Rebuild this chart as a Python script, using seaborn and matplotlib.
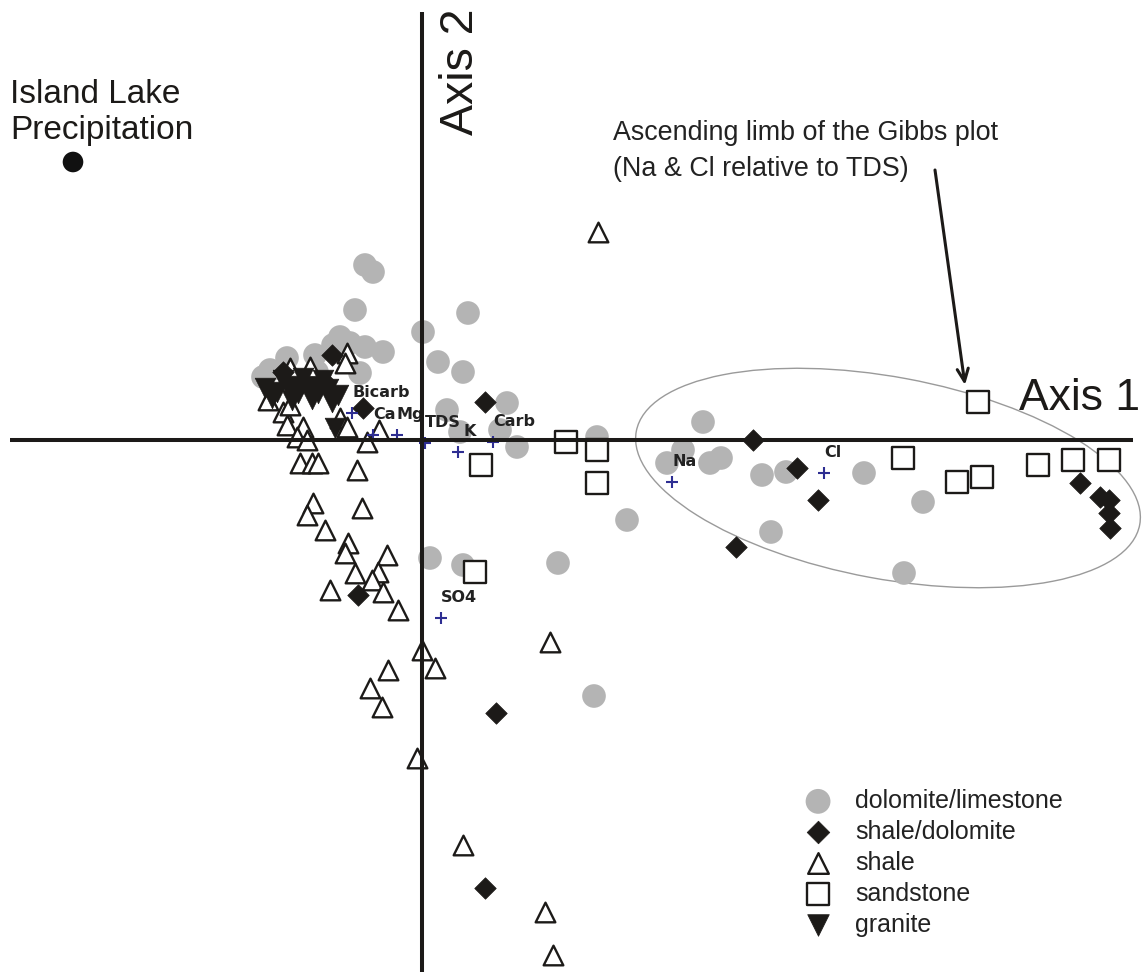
import matplotlib
matplotlib.use("Agg")
import matplotlib.pyplot as plt
import seaborn as sns
import pandas as pd
from matplotlib.patches import Ellipse

sns.set_style("white")
plt.rcParams['font.family'] = ['Liberation Sans', 'DejaVu Sans']

# ---------------- data (Axis 1 / Axis 2 ordination scores) -------------
dolo_x = [-0.57, -0.49, -0.67, 0.46, 0.01, -0.82, -0.57, -0.39, 0.16, 0.41, 0.85, 0.25, 0.38,
          0.78, 0.95, 1.75, 2.05, 0.08, 0.41, 1.36, 1.72, -1.52, -1.35, -1.07, -0.89, -0.72,
          -0.62, -1.05, -1.59, 2.81, 2.61, 2.45, 2.88, 2.99, 3.40, 3.64, 4.42, 5.01, 3.49, 4.82]
dolo_y = [1.75, 1.68, 1.30, 1.27, 1.08, 1.03, 0.93, 0.88, 0.78, 0.68, 0.37, 0.30, 0.08,
          0.10, -0.07, 0.03, -0.80, -1.18, -1.25, -1.23, -2.56, 0.70, 0.82, 0.85, 0.95, 0.97,
          0.67, 0.68, 0.63, 0.18, -0.10, -0.23, -0.23, -0.18, -0.35, -0.32, -0.33, -0.62, -0.92, -1.33]

shdo_x = [-0.90, -0.59, 0.63, -0.64, 0.74, 0.63, 3.31, 3.75, 3.96, 3.14, 6.58, 6.78, 6.87,
          6.87, 6.88, -1.39, -1.22, -0.97]
shdo_y = [0.85, 0.32, 0.38, -1.55, -2.73, -4.48, 0.00, -0.28, -0.60, -1.07, -0.43, -0.57, -0.60,
          -0.73, -0.88, 0.68, 0.55, 0.58]

shale_x = [1.76, -0.75, -0.77, -1.32, -1.12, -1.39, -1.35, -1.19, -0.82, -0.75, -0.43, -0.55,
           -1.25, -1.15, -1.22, -1.10, -1.04, -0.65, -1.09, -1.15, -0.60, -0.97, -0.74, -0.77,
           -0.35, -0.67, -0.44, -0.50, -0.92, -0.39, -0.24, 0.00, 0.13, -0.34, -0.52, -0.40,
           1.28, -0.05, 0.41, 1.23, 1.31, -1.54, -1.32]
shale_y = [2.08, 0.87, 0.77, 0.72, 0.73, 0.28, 0.15, 0.13, 0.22, 0.13, 0.10, -0.02,
           0.03, 0.00, -0.23, -0.23, -0.23, -0.30, -0.63, -0.75, -0.68, -0.90, -1.03, -1.13,
           -1.15, -1.33, -1.32, -1.40, -1.50, -1.52, -1.70, -2.10, -2.28, -2.30, -2.48, -2.67,
           -2.02, -3.18, -4.05, -4.72, -5.15, 0.40, 0.35]

sand_x = [5.56, 0.59, 1.44, 1.75, 1.75, 0.53, 4.81, 5.35, 5.60, 6.16, 6.51, 6.87]
sand_y = [0.38, -0.25, -0.02, -0.10, -0.43, -1.32, -0.18, -0.42, -0.37, -0.25, -0.20, -0.20]

gran_x = [-1.57, -1.45, -1.34, -1.24, -1.14, -1.04, -0.94, -0.84, -1.50, -1.30, -1.10, -0.90,
          -1.39, -1.19, -0.99, -0.87]
gran_y = [0.52, 0.48, 0.54, 0.47, 0.53, 0.47, 0.51, 0.45, 0.42, 0.40, 0.41, 0.38,
          0.60, 0.62, 0.60, 0.12]

precip_x = [-3.49]
precip_y = [2.78]

var_names = ["Bicarb", "Ca", "Mg", "TDS", "K", "Carb", "Na", "Cl", "SO4"]
var_x = [-0.70, -0.49, -0.25, 0.03, 0.36, 0.71, 2.50, 4.02, 0.19]
var_y = [0.27, 0.05, 0.05, -0.03, -0.12, -0.02, -0.42, -0.33, -1.78]

rock_labels = ["dolomite/limestone", "shale/dolomite", "shale", "sandstone", "granite"]

# ---------------- figure --------------------------------------------------------------------
fig = plt.figure(figsize=(11.42, 9.72), dpi=100)
ax = fig.add_axes([0, 0, 1, 1])
ax.set_xlim(-4.22, 7.20)
ax.set_ylim(-5.32, 4.40)
ax.axis('off')

dark = '#1c1a18'

sns.scatterplot(x=dolo_x, y=dolo_y, ax=ax, marker='o', s=290, color='#b4b4b4',
                edgecolor='none', linewidth=0, zorder=2, label=rock_labels[0])
sns.scatterplot(x=sand_x, y=sand_y, ax=ax, marker='s', s=230, color='white',
                edgecolor=dark, linewidth=1.7, zorder=3, label=rock_labels[3])
sns.scatterplot(x=shale_x, y=shale_y, ax=ax, marker='^', s=200, color='white',
                edgecolor=dark, linewidth=1.7, zorder=4, label=rock_labels[2])
sns.scatterplot(x=shdo_x, y=shdo_y, ax=ax, marker='D', s=120, color=dark,
                edgecolor=dark, linewidth=0.5, zorder=5, label=rock_labels[1])
sns.scatterplot(x=gran_x, y=gran_y, ax=ax, marker='v', s=220, color=dark,
                edgecolor=dark, linewidth=0.5, zorder=6, label=rock_labels[4])
sns.scatterplot(x=precip_x, y=precip_y, ax=ax, marker='o', s=220, color='#111111',
                edgecolor='none', linewidth=0, zorder=6)

# variable vectors (blue crosses) with bold labels
sns.scatterplot(x=var_x, y=var_y, ax=ax, marker='+', s=85, color='#2e2e92',
                linewidth=1.5, zorder=7)
for name, vx, vy in zip(var_names, var_x, var_y):
    dx = 4 if name == "K" else 0
    ax.annotate(name, (vx, vy), xytext=(dx, 14.5), textcoords='offset points',
                ha='left', va='center', fontsize=11.5, fontweight='bold', color='#222222',
                family='DejaVu Sans', zorder=8)

# ordination axes
ax.hlines(0, -4.12, 7.11, color=dark, linewidth=2.9, zorder=9)
ax.vlines(0, -5.40, 4.28, color=dark, linewidth=2.9, zorder=9)

# ellipse around the Na/Cl limb
ax.add_patch(Ellipse((4.66, -0.38), 5.12, 2.02, angle=-10.5, fill=False,
                     edgecolor='#9a9a9a', linewidth=1.0, zorder=1))

# texts
ax.text(-4.12, 3.61, "Island Lake\nPrecipitation", fontsize=24, color=dark,
        ha='left', va='top', linespacing=1.19)
ax.text(0.39, 4.32, "Axis 2", fontsize=33.5, color=dark, rotation=90,
        ha='center', va='top')
ax.text(5.97, 0.30, "Axis 1", fontsize=32, color=dark, ha='left', va='baseline')
ax.text(1.91, 3.20, "Ascending limb of the Gibbs plot\n(Na & Cl relative to TDS)",
        fontsize=19.4, color='#222222', ha='left', va='top', linespacing=1.5)
ax.annotate("", xy=(5.43, 0.55), xytext=(5.13, 2.70),
            arrowprops=dict(arrowstyle='->,head_length=0.9,head_width=0.4',
                            color=dark, linewidth=2.2, shrinkA=0, shrinkB=0))

# legend
handles, labels = ax.get_legend_handles_labels()
order = [labels.index(l) for l in rock_labels]
leg = ax.legend([handles[i] for i in order], [labels[i] for i in order],
                loc='upper left', bbox_to_anchor=(0.6835, 0.2012), bbox_transform=fig.transFigure,
                frameon=False, fontsize=18, labelspacing=0.28, handletextpad=0.48,
                borderpad=0, handlelength=2.0, scatterpoints=1, markerscale=1.05)
for t in leg.get_texts():
    t.set_color('#222222')

fig.savefig("out.png", dpi=100)
